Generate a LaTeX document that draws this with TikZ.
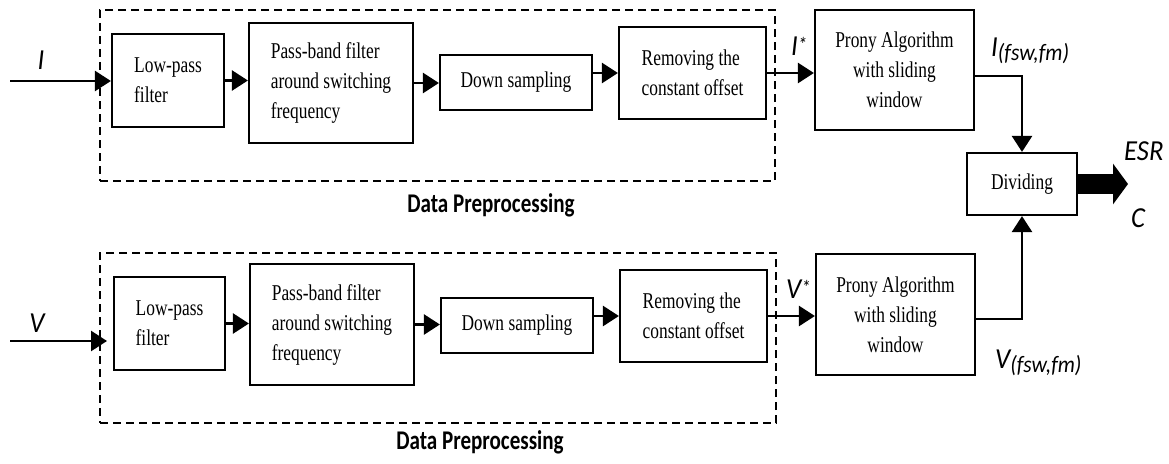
\documentclass[tikz,border=0pt]{standalone}
\usepackage{fontspec}
\setmainfont{Liberation Serif}[FakeStretch=0.77]
\newfontfamily\lblfont{Carlito}[FakeStretch=0.92]
\newfontfamily\dpfont{Carlito}[FakeStretch=0.78]
\usetikzlibrary{arrows.meta,calc}
\tikzset{
  blk/.style={draw, line width=2.2pt, inner sep=0pt, font=\fontsize{22.6}{30}\selectfont},
  dbox/.style={draw, line width=2.2pt, dash pattern=on 8pt off 5pt, inner sep=0pt},
  conn/.style={line width=2.6pt, -{Triangle[length=16pt,width=20pt]}},
  lbl/.style={inner sep=0pt, font=\lblfont\itshape\fontsize{29}{29}\selectfont},
  dplbl/.style={inner sep=0pt, font=\dpfont\bfseries\fontsize{27}{27}\selectfont},
}
\begin{document}
\begin{tikzpicture}[x=1pt,y=-1pt]
\useasboundingbox (0,0) rectangle (1169,463);
% dashed preprocessing frames
\node[dbox, minimum width=675pt, minimum height=171pt] (pre1) at (437.5,95.5) {};
\node[dbox, minimum width=676pt, minimum height=170pt] (pre2) at (438,338) {};
% top row
\node[blk, minimum width=112pt, minimum height=93pt, align=left] (lp1) at (168,80.5) {Low-pass\\filter};
\node[blk, minimum width=164pt, minimum height=120pt, align=left] (pb1) at (331,83) {Pass-band filter\\around switching\\frequency};
\node[blk, minimum width=152pt, minimum height=55pt] (ds1) at (516,82.5) {Down sampling};
\node[blk, minimum width=147pt, minimum height=92pt, align=left] (rm1) at (692.5,73) {Removing the\\constant offset};
\node[blk, minimum width=159pt, minimum height=120pt, align=center] (pr1) at (894.5,70) {Prony Algorithm\\with sliding\\window};
\node[blk, minimum width=110pt, minimum height=62pt] (dv) at (1022,184) {Dividing};
% bottom row
\node[blk, minimum width=111pt, minimum height=93pt, align=left] (lp2) at (169.5,323.5) {Low-pass\\filter};
\node[blk, minimum width=164pt, minimum height=121pt, align=left] (pb2) at (332,324.5) {Pass-band filter\\around switching\\frequency};
\node[blk, minimum width=152pt, minimum height=55pt] (ds2) at (517,325.5) {Down sampling};
\node[blk, minimum width=147pt, minimum height=92pt, align=left] (rm2) at (693.5,316) {Removing the\\constant offset};
\node[blk, minimum width=159pt, minimum height=121pt, align=center] (pr2) at (895.5,314.5) {Prony Algorithm\\with sliding\\window};
% coordinates
\coordinate (iin) at (10,81);
\coordinate (vin) at (10,341);
\coordinate (vtip) at (107,341);
\coordinate (outtip) at (1128,184);
% connectors top
\draw[conn] (iin) -- (iin -| lp1.west);
\draw[conn] (lp1.east) -- (lp1.east -| pb1.west);
\draw[conn] (pb1.east) -- (pb1.east -| ds1.west);
\draw[conn] (ds1.east |- rm1.west) -- (rm1.west);
\draw[conn] (rm1.east) -- (rm1.east -| pr1.west);
\draw[conn] ($(pr1.east)+(0,6)$) -| (dv.north);
% connectors bottom
\draw[conn] (vin) -- (vtip);
\draw[conn] (lp2.east) -- (lp2.east -| pb2.west);
\draw[conn] (pb2.east) -- (pb2.east -| ds2.west);
\draw[conn] (ds2.east |- rm2.west) -- (rm2.west);
\draw[conn] (rm2.east) -- (rm2.east -| pr2.west);
\draw[conn] ($(pr2.east)+(0,4.5)$) -| (dv.south);
% thick output arrow
\draw[line width=20pt, -{Triangle[length=15pt,width=40pt]}] (dv.east) -- (outtip);
% labels
\node[lbl, anchor=base] (li) at (41,69) {I};
\node[lbl, anchor=base] (lv) at (37,332) {V};
\node[lbl, anchor=base west] (lis) at (791,55) {I\raisebox{4pt}{\fontsize{20}{20}\selectfont *}};
\node[lbl, anchor=base west] (lvs) at (786,298) {V\raisebox{4pt}{\fontsize{20}{20}\selectfont *}};
\node[lbl, anchor=base west] (lif) at (991,56) {I\raisebox{-4pt}{\fontsize{23.5}{24}\selectfont(fsw,fm)}};
\node[lbl, anchor=base west] (lvf) at (995,368) {V\raisebox{-4pt}{\fontsize{23.5}{24}\selectfont(fsw,fm)}};
\node[lbl, anchor=base west] (lesr) at (1124,160) {ESR};
\node[lbl, anchor=base west] (lc) at (1131,227) {C};
\node[dplbl, anchor=base] (dp1) at (491,212) {Data Preprocessing};
\node[dplbl, anchor=base] (dp2) at (480,449) {Data Preprocessing};
\end{tikzpicture}
\end{document}
